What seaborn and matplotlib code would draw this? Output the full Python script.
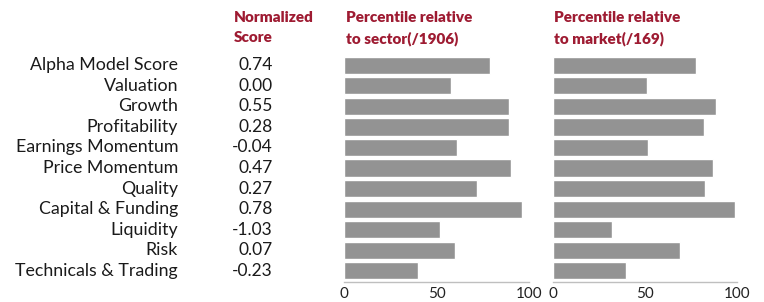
import pandas as pd
import matplotlib
matplotlib.use("Agg")
import matplotlib.pyplot as plt
import matplotlib.transforms as mtransforms
import seaborn as sns

# chart data
factors = ["Alpha Model Score", "Valuation", "Growth", "Profitability",
           "Earnings Momentum", "Price Momentum", "Quality",
           "Capital & Funding", "Liquidity", "Risk", "Technicals & Trading"]
scores = ["0.74", "0.00", "0.55", "0.28", "-0.04", "0.47",
          "0.27", "0.78", "-1.03", "0.07", "-0.23"]
sector_pct = [79, 58, 89, 89, 61, 90, 72, 96, 52, 60, 40]
market_pct = [78, 51, 89, 82, 52, 87, 83, 99, 32, 69, 40]
x_ticks = [0, 50, 100]

df = pd.DataFrame({"factor": factors, "sector": sector_pct, "market": market_pct})

sns.set_theme(style="white")
plt.rcParams["font.family"] = ["Lato", "DejaVu Sans"]

red = "#9E1B32"
bar_grey = "#939393"

fig = plt.figure(figsize=(7.64, 3.02), dpi=100)
ax1 = fig.add_axes([344 / 764, 0.0669, 185 / 764, 0.7536])
ax2 = fig.add_axes([552.7 / 764, 0.0669, 184 / 764, 0.7536])

for ax, col in [(ax1, "sector"), (ax2, "market")]:
    sns.barplot(data=df, x=col, y="factor", color=bar_grey, width=0.83,
                saturation=1, ax=ax)
    ax.set_xlim(0, 100)
    ax.set_ylim(10.55, -0.55)
    ax.set_xticks(x_ticks)
    ax.set_xlabel("")
    ax.set_ylabel("")
    ax.set_yticks([])
    for s in ["left", "top", "right"]:
        ax.spines[s].set_visible(False)
    ax.spines["bottom"].set_color("#BFBFBF")
    ax.spines["bottom"].set_linewidth(1)
    ax.tick_params(axis="x", direction="in", length=4, width=1,
                   color="#BFBFBF", labelsize=11, pad=4, labelcolor="#222222")

# factor names and normalized scores
trans = mtransforms.blended_transform_factory(fig.transFigure, ax1.transData)
for i, (name, sc) in enumerate(zip(factors, scores)):
    ax1.text(178 / 764, i, name, transform=trans, ha="right", va="center",
             fontsize=12.8, color="#1a1a1a")
    ax1.text(273 / 764, i, sc, transform=trans, ha="right", va="center",
             fontsize=12.5, color="#1a1a1a")

# column headers
hdr = dict(ha="left", va="top", fontsize=11, fontweight="heavy",
           color=red, linespacing=1.65)
fig.text(234 / 764, 1 - 11 / 302, "Normalized\nScore", **hdr)
fig.text(346 / 764, 1 - 11 / 302, "Percentile relative\nto sector(/1906)", **hdr)
fig.text(554 / 764, 1 - 11 / 302, "Percentile relative\nto market(/169)", **hdr)

fig.savefig("out.png", dpi=100)
